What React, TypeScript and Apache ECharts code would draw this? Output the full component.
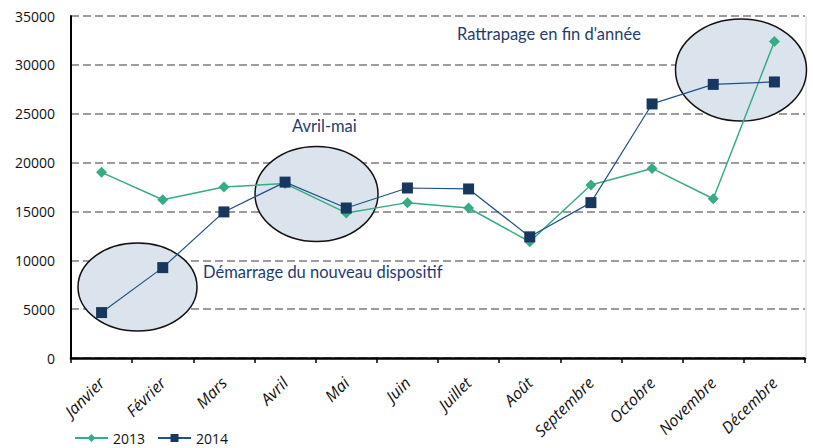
import React, { useEffect, useRef } from "react";
import * as echarts from "echarts";

const months = ["Janvier", "Février", "Mars", "Avril", "Mai", "Juin", "Juillet", "Août", "Septembre", "Octobre", "Novembre", "Décembre"];
const values2013 = [19000, 16200, 17500, 17850, 14850, 15900, 15350, 11900, 17700, 19400, 16300, 32400];
const values2014 = [4650, 9250, 14950, 18000, 15350, 17400, 17300, 12400, 15900, 26000, 28000, 28250];
const yTicks = { min: 0, max: 35000, interval: 5000 };
const annotations = [
  { text: "Démarrage du nouveau dispositif", x: 203, y: 272 },
  { text: "Avril-mai", x: 292, y: 126 },
  { text: "Rattrapage en fin d'année", x: 457, y: 34 },
];
const highlights = [
  { cx: 137.5, cy: 287, rx: 59.5, ry: 44 },
  { cx: 316.5, cy: 194, rx: 61.5, ry: 47.5 },
  { cx: 741, cy: 70, rx: 65.5, ry: 51 },
];

const FONT = "Lato, 'Noto Sans', sans-serif";
const TICK_FONT = "'Open Sans', 'Noto Sans', sans-serif";
const GREEN = "#36ac82";
const NAVY = "#17375e";
const NAVY_LINE = "#1f5286";

export default function App() {
  const ref = useRef<HTMLDivElement>(null);
  useEffect(() => {
    if (!ref.current) return;
    const chart = echarts.init(ref.current, undefined, { renderer: "svg" });
    chart.setOption({
      animation: false,
      backgroundColor: "#ffffff",
      grid: { left: 71, right: 8, top: 16, bottom: 90 },
      legend: {
        left: 74,
        top: 431,
        padding: 0,
        itemWidth: 33,
        itemHeight: 10,
        itemGap: 12,
        textStyle: { fontFamily: TICK_FONT, fontSize: 14, color: "#111" },
        data: ["2013", "2014"],
      },
      xAxis: {
        type: "category",
        data: months,
        boundaryGap: true,
        axisLine: { lineStyle: { color: "#000", width: 2.5 } },
        axisTick: { show: true, length: 5, lineStyle: { color: "#000", width: 1.5 } },
        axisLabel: {
          rotate: 45,
          margin: 22,
          interval: 0,
          fontFamily: TICK_FONT,
          fontStyle: "italic",
          fontSize: 16,
          color: "#111",
        },
        splitLine: { show: false },
      },
      yAxis: {
        type: "value",
        min: yTicks.min,
        max: yTicks.max,
        interval: yTicks.interval,
        axisLine: { show: true, lineStyle: { color: "#000", width: 2 } },
        axisTick: { show: false },
        axisLabel: {
          fontFamily: TICK_FONT,
          fontSize: 14,
          color: "#111",
          margin: 16,
          formatter: (v: number) => String(v),
        },
        splitLine: { show: true, lineStyle: { color: "#9c9c9c", width: 2, type: [8, 4] } },
      },
      graphic: [
        {
          type: "line",
          z: 1,
          shape: { x1: 806, y1: 16, x2: 806, y2: 358 },
          style: { stroke: "#d4d4d4", lineWidth: 1 },
        },
        ...highlights.map((h) => ({
          type: "ellipse",
          z: 1,
          shape: { cx: h.cx, cy: h.cy, rx: h.rx, ry: h.ry },
          style: { fill: "#dbe4ec", stroke: "#111", lineWidth: 1.5 },
        })),
        ...annotations.map((a) => ({
          type: "text",
          z: 5,
          x: a.x,
          y: a.y,
          style: {
            text: a.text,
            fill: "#1f3d6b",
            font: `16.5px ${FONT}`,
            textVerticalAlign: "middle",
          },
        })),
      ],
      series: [
        {
          name: "2013",
          type: "line",
          z: 3,
          data: values2013,
          symbol: "diamond",
          symbolSize: 11,
          itemStyle: { color: GREEN },
          lineStyle: { color: GREEN, width: 1.5 },
        },
        {
          name: "2014",
          type: "line",
          z: 4,
          data: values2014,
          symbol: "rect",
          symbolSize: 11,
          itemStyle: { color: NAVY },
          lineStyle: { color: NAVY_LINE, width: 1.2 },
        },
      ],
    });
    return () => chart.dispose();
  }, []);
  return <div ref={ref} style={{ position: "fixed", left: 0, top: 0, width: 813, height: 448 }} />;
}
